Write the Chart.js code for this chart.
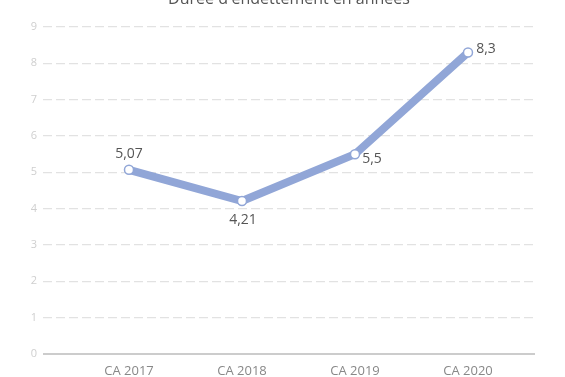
<!DOCTYPE html>
<html><head><meta charset="utf-8">
<script src="https://cdn.jsdelivr.net/npm/chart.js@4/dist/chart.umd.min.js"></script>
<style>html,body{margin:0;padding:0;background:#fff}#w{position:relative;width:565px;height:377px}</style>
</head><body><div id="w"><canvas id="c" width="565" height="377"></canvas></div>
<script>
const title = "Durée d'endettement en années";
const categories = ["CA 2017", "CA 2018", "CA 2019", "CA 2020"];
const values = [5.07, 4.21, 5.5, 8.3];
const valueLabels = ["5,07", "4,21", "5,5", "8,3"];
const yTicks = [0,1,2,3,4,5,6,7,8,9];

const labelOffsets = [[0,-16],[1,19],[17,5],[18,-3]];
const lineColor = '#91a6d7';

const labelPlugin = {
  id: 'valueLabels',
  afterDatasetsDraw(chart) {
    const ctx = chart.ctx;
    const meta = chart.getDatasetMeta(0);
    ctx.save();
    ctx.font = '14px "Open Sans", sans-serif';
    ctx.fillStyle = '#555';
    ctx.textAlign = 'center';
    ctx.textBaseline = 'middle';
    meta.data.forEach((pt, i) => {
      const o = labelOffsets[i];
      ctx.fillText(valueLabels[i], pt.x + o[0], pt.y + o[1]);
    });
    ctx.restore();
  }
};
const titlePlugin = {
  id: 'cutTitle',
  afterDraw(chart) {
    const ctx = chart.ctx, a = chart.chartArea;
    ctx.save();
    ctx.font = '16px "Open Sans", sans-serif';
    ctx.fillStyle = '#555';
    ctx.textAlign = 'center';
    ctx.textBaseline = 'alphabetic';
    ctx.fillText(title, (a.left + a.right) / 2, 4);
    ctx.restore();
  }
};
const zeroLine = {
  id: 'zeroLine',
  beforeDatasetsDraw(chart) {
    const ctx = chart.ctx, a = chart.chartArea, y = chart.scales.y.getPixelForValue(0);
    ctx.save();
    ctx.strokeStyle = '#9a9a9a';
    ctx.lineWidth = 1.2;
    ctx.beginPath(); ctx.moveTo(a.left, y); ctx.lineTo(a.right, y); ctx.stroke();
    ctx.restore();
  }
};

new Chart(document.getElementById('c'), {
  type: 'line',
  data: {
    datasets: [{
      data: values.map((v, i) => ({x: i, y: v})),
      borderColor: lineColor,
      borderWidth: 8,
      pointRadius: 4.5,
      pointBorderWidth: 1.5,
      pointBackgroundColor: '#fff',
      pointBorderColor: lineColor,
      tension: 0
    }]
  },
  options: {
    responsive: false,
    animation: false,
    layout: {padding: {top: 27, right: 30, left: 0, bottom: 0}},
    plugins: {legend: {display: false}, tooltip: {enabled: false}, title: {display: false}},
    scales: {
      x: {
        type: 'linear',
        min: -0.761, max: 3.593,
        afterFit(s) { s.height = 23; },
        afterBuildTicks(s) { s.ticks = categories.map((c, i) => ({value: i})); },
        grid: {display: false, drawTicks: false},
        border: {display: false},
        ticks: {
          padding: 9,
          color: '#888',
          font: {family: '"Open Sans", sans-serif', size: 13},
          callback: (v) => categories[v]
        }
      },
      y: {
        min: 0, max: 9,
        afterFit(s) { s.width = 43; },
        afterBuildTicks(s) { s.ticks = yTicks.map(v => ({value: v})); },
        grid: {
          color: (c) => c.tick && c.tick.value === 0 ? 'rgba(0,0,0,0)' : '#e2e2e2',
          lineWidth: 1.3,
          drawTicks: false
        },
        border: {display: false, dash: [9,4]},
        ticks: {
          padding: 6,
          color: '#cfcfcf',
          font: {family: '"Open Sans", sans-serif', size: 11}
        }
      }
    }
  },
  plugins: [zeroLine, labelPlugin, titlePlugin]
});
</script></body></html>
